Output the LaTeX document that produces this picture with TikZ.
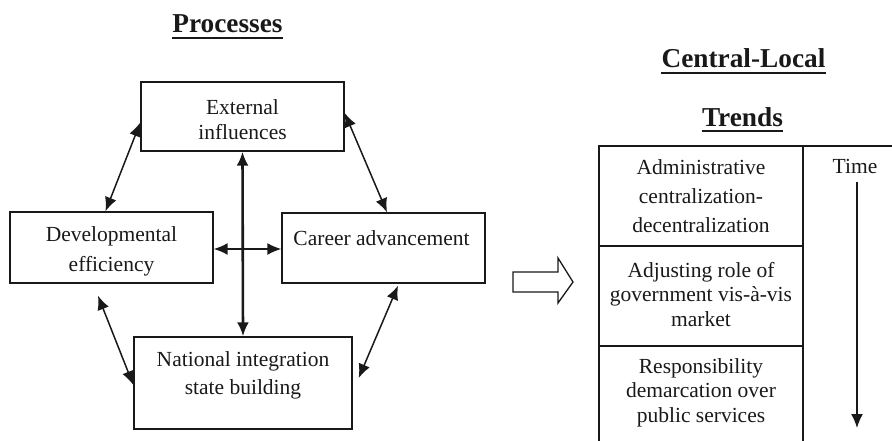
\documentclass[tikz,border=0pt]{standalone}
\usepackage{fontspec}
\setmainfont{Liberation Serif}
\usetikzlibrary{positioning, arrows.meta}
\definecolor{InkBlack}{RGB}{25, 25, 25}

\tikzset{
    procbox/.style={draw=InkBlack, line width=1.4pt, inner sep=0pt},
    boxtext/.style={align=center, text=InkBlack, inner sep=0pt},
    heading/.style={font=\fontsize{27.3}{30}\selectfont\bfseries, text=InkBlack, inner sep=0pt},
    twoway/.style={InkBlack, line width=1.5pt, {Latex[length=14pt,width=12pt]}-{Latex[length=14pt,width=12pt]}},
}

\begin{document}
\begin{tikzpicture}[x=1pt, y=-1pt]
    \useasboundingbox (0,0) rectangle (892,441);

    % Procesos
    \node[heading, anchor=base] (proctitle) at (227.5,33) {Processes};
    \draw[InkBlack, line width=2.6pt] ([yshift=-5pt]proctitle.base west) -- ([yshift=-5pt]proctitle.base east);

    \node[procbox, minimum width=203pt, minimum height=69pt] (ext) at (242.5,116.5) {};
    \node[procbox, minimum width=203pt, minimum height=71pt] (dev) at (111.5,247.5) {};
    \node[procbox, minimum width=203pt, minimum height=70pt] (career) at (383.5,248) {};
    \node[procbox, minimum width=218pt, minimum height=92pt] (nat) at (243,383) {};

    \node[boxtext, font=\fontsize{21.5}{25}\selectfont] (exttext) at (242.5,119.2) {External\\influences};
    \node[boxtext, font=\fontsize{21.5}{30}\selectfont] (devtext) at (111.5,251) {Developmental\\efficiency};
    \node[boxtext, font=\fontsize{21.5}{25}\selectfont] (careertext) at (381.5,237.7) {Career advancement};
    \node[boxtext, font=\fontsize{21.5}{28}\selectfont] (nattext) at (243,375.7) {National integration\\state building};

    \draw[twoway] ([yshift=-6pt]ext.west) -- ([xshift=-6pt]dev.north);
    \draw[twoway] ([yshift=3.5pt]ext.east) -- ([xshift=3.5pt]career.north);
    \draw[twoway] ([xshift=-13.5pt,yshift=-12pt]dev.south) -- ([yshift=-2pt]nat.west);
    \draw[twoway] ([xshift=14.5pt,yshift=-2pt]career.south) -- ([xshift=6pt,yshift=5pt]nat.east);
    \draw[twoway] ([yshift=-1.5pt]dev.east) -- ([yshift=-1pt]career.west);
    \draw[twoway, line width=2.6pt] (ext.south) -- (nat.north);

    % Flecha hueca
    \draw[InkBlack, line width=1.3pt] (513,272) -- (558,272) -- (558,258) -- (573,282)
        -- (558,303) -- (558,292) -- (513,292) -- cycle;

    % Tendencias
    \node[heading, anchor=base] (cltitle) at (743.5,68) {Central-Local};
    \draw[InkBlack, line width=2.6pt] ([yshift=-5pt]cltitle.base west) -- ([yshift=-5pt]cltitle.base east);
    \node[heading, anchor=base] (trendtitle) at (742.5,127) {Trends};
    \draw[InkBlack, line width=2.6pt] ([yshift=-4pt]trendtitle.base west) -- ([yshift=-4pt]trendtitle.base east);

    \draw[InkBlack, line width=1.4pt] (599,441) -- (599,146) -- (892,146);
    \draw[InkBlack, line width=1.4pt] (803,146) -- (803,441);
    \draw[InkBlack, line width=1.4pt] (599,246) -- (803,246);
    \draw[InkBlack, line width=1.4pt] (599,346) -- (803,346);

    \node[boxtext, font=\fontsize{21.5}{29}\selectfont] (admin) at (701,196.5) {Administrative\\centralization-\\decentralization};
    \node[boxtext, font=\fontsize{21.5}{24.5}\selectfont] (market) at (701,294.5) {Adjusting role of\\government vis-à-vis\\market};
    \node[boxtext, font=\fontsize{21.5}{24.5}\selectfont] (services) at (701,392.5) {Responsibility\\demarcation over\\public services};

    % Tiempo
    \node[boxtext, font=\fontsize{21.5}{25}\selectfont, inner sep=8pt] (time) at (855,166.7) {Time};
    \coordinate (timeend) at (857,428);
    \draw[InkBlack, line width=1.5pt, -{Latex[length=14pt,width=12pt]}] (time.south -| timeend) -- (timeend);
\end{tikzpicture}
\end{document}
